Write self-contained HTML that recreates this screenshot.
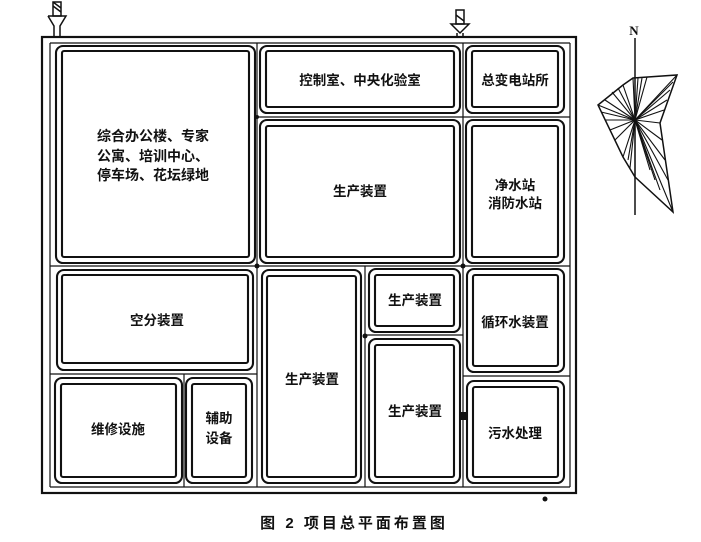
<!DOCTYPE html>
<html><head><meta charset="utf-8">
<style>
html,body{margin:0;padding:0;background:#fff;width:701px;height:542px;overflow:hidden}
svg{display:block}
text{font-family:"Liberation Sans","Noto Sans CJK SC",sans-serif;font-weight:bold;fill:#111}
</style></head><body>
<svg width="701" height="542" viewBox="0 0 701 542" xmlns="http://www.w3.org/2000/svg">
<g fill="none" stroke="#111">
<rect x="42" y="37" width="534" height="456" stroke-width="2.2"/>
<g stroke-width="1.2">
<line x1="50" y1="43" x2="570" y2="43"/>
<line x1="50" y1="487" x2="570" y2="487"/>
<line x1="50" y1="43" x2="50" y2="487"/>
<line x1="570" y1="43" x2="570" y2="487"/>
<line x1="257" y1="43" x2="257" y2="487"/>
<line x1="463" y1="43" x2="463" y2="487"/>
<line x1="50" y1="266" x2="570" y2="266"/>
<line x1="50" y1="374" x2="257" y2="374"/>
<line x1="257" y1="117" x2="570" y2="117"/>
<line x1="365" y1="266" x2="365" y2="487"/>
<line x1="365" y1="335" x2="463" y2="335"/>
<line x1="463" y1="376" x2="570" y2="376"/>
<line x1="184" y1="374" x2="184" y2="487"/>
</g>
<g stroke-width="2.1">
<rect x="56" y="46" width="199" height="217" rx="7"/><rect x="62" y="51" width="187" height="206" rx="2"/>
<rect x="260" y="46" width="200" height="67" rx="7"/><rect x="266" y="51" width="188" height="56" rx="2"/>
<rect x="466" y="46" width="98" height="67" rx="7"/><rect x="472" y="51" width="86" height="56" rx="2"/>
<rect x="260" y="120" width="200" height="143" rx="7"/><rect x="266" y="126" width="188" height="131" rx="2"/>
<rect x="466" y="120" width="98" height="143" rx="7"/><rect x="472" y="126" width="86" height="131" rx="2"/>
<rect x="57" y="270" width="196" height="100" rx="7"/><rect x="62" y="275" width="186" height="88" rx="2"/>
<rect x="262" y="270" width="99" height="213" rx="7"/><rect x="267" y="276" width="89" height="201" rx="2"/>
<rect x="369" y="269" width="91" height="63" rx="7"/><rect x="375" y="275" width="79" height="51" rx="2"/>
<rect x="369" y="339" width="91" height="144" rx="7"/><rect x="375" y="345" width="79" height="132" rx="2"/>
<rect x="467" y="269" width="97" height="103" rx="7"/><rect x="473" y="275" width="85" height="91" rx="2"/>
<rect x="467" y="381" width="97" height="102" rx="7"/><rect x="473" y="387" width="85" height="90" rx="2"/>
<rect x="55" y="378" width="127" height="105" rx="7"/><rect x="61" y="384" width="115" height="93" rx="2"/>
<rect x="186" y="378" width="66" height="105" rx="7"/><rect x="192" y="384" width="54" height="93" rx="2"/>
</g>
<g stroke-width="1.5">
<rect x="53" y="2" width="8" height="14"/><line x1="53" y1="6" x2="61" y2="12"/><line x1="53" y1="2" x2="61" y2="8"/>
<path d="M48 16 L66 16 L60 26 L60 37 M48 16 L54 26 L54 37"/>
<rect x="456" y="10" width="8" height="14"/><line x1="456" y1="15" x2="464" y2="21"/>
<path d="M451 24 L469 24 L460 33 Z M457 33 L457 37 M463 33 L463 37"/>
</g>
<g stroke-width="1.5">
<line x1="635" y1="38" x2="635" y2="215"/>
<polygon points="633,78 677,75 660,123 673,212 635,177 623,157 598,105 623,85"/>
<g stroke-width="1.1">
<line x1="635" y1="120" x2="633" y2="78"/><line x1="635" y1="120" x2="638" y2="78"/><line x1="635" y1="120" x2="642" y2="78"/><line x1="635" y1="120" x2="647" y2="77"/>
<line x1="635" y1="120" x2="677" y2="75"/><line x1="635" y1="120" x2="673" y2="82"/><line x1="635" y1="120" x2="670" y2="90"/><line x1="635" y1="120" x2="667" y2="100"/><line x1="635" y1="120" x2="664" y2="110"/>
<line x1="635" y1="120" x2="660" y2="123"/><line x1="635" y1="120" x2="662" y2="140"/><line x1="635" y1="120" x2="665" y2="160"/><line x1="635" y1="120" x2="668" y2="180"/><line x1="635" y1="120" x2="673" y2="212"/>
<line x1="635" y1="120" x2="660" y2="190"/><line x1="635" y1="120" x2="635" y2="177"/><line x1="635" y1="120" x2="630" y2="168"/><line x1="635" y1="120" x2="623" y2="157"/>
<line x1="635" y1="120" x2="615" y2="140"/><line x1="635" y1="120" x2="610" y2="130"/><line x1="635" y1="120" x2="605" y2="120"/><line x1="635" y1="120" x2="601" y2="112"/><line x1="635" y1="120" x2="598" y2="105"/>
<line x1="635" y1="120" x2="605" y2="100"/><line x1="635" y1="120" x2="612" y2="92"/><line x1="635" y1="120" x2="618" y2="88"/><line x1="635" y1="120" x2="623" y2="85"/>
<line x1="635" y1="120" x2="628" y2="160"/><line x1="635" y1="120" x2="650" y2="170"/><line x1="635" y1="120" x2="655" y2="180"/>
</g>
</g>
</g>
<g fill="#111">
<circle cx="257" cy="266" r="2.5"/><circle cx="463" cy="266" r="2.5"/><circle cx="365" cy="336" r="2.5"/>
<rect x="461" y="412" width="5" height="8"/><circle cx="545" cy="499" r="2.5"/><circle cx="257" cy="117" r="2"/>
</g>
<text x="634" y="35" font-size="13" text-anchor="middle" style="font-family:'Liberation Serif',serif">N</text>
<g font-size="14">
<text x="97" y="141">综合办公楼、专家</text>
<text x="97" y="161">公寓、培训中心、</text>
<text x="97" y="180">停车场、花坛绿地</text>
</g>
<g font-size="13.5" text-anchor="middle">
<text x="360" y="85">控制室、中央化验室</text>
<text x="515" y="85">总变电站所</text>
<text x="360" y="196">生产装置</text>
<text x="515" y="190">净水站</text>
<text x="515" y="208">消防水站</text>
<text x="157" y="325">空分装置</text>
<text x="312" y="384">生产装置</text>
<text x="415" y="305">生产装置</text>
<text x="415" y="416">生产装置</text>
<text x="515" y="327">循环水装置</text>
<text x="515" y="438">污水处理</text>
<text x="118" y="434">维修设施</text>
<text x="219" y="423">辅助</text>
<text x="219" y="443">设备</text>
</g>
<text x="354" y="528" font-size="15" text-anchor="middle" letter-spacing="3">图 2  项目总平面布置图</text>
</svg>
</body></html>
